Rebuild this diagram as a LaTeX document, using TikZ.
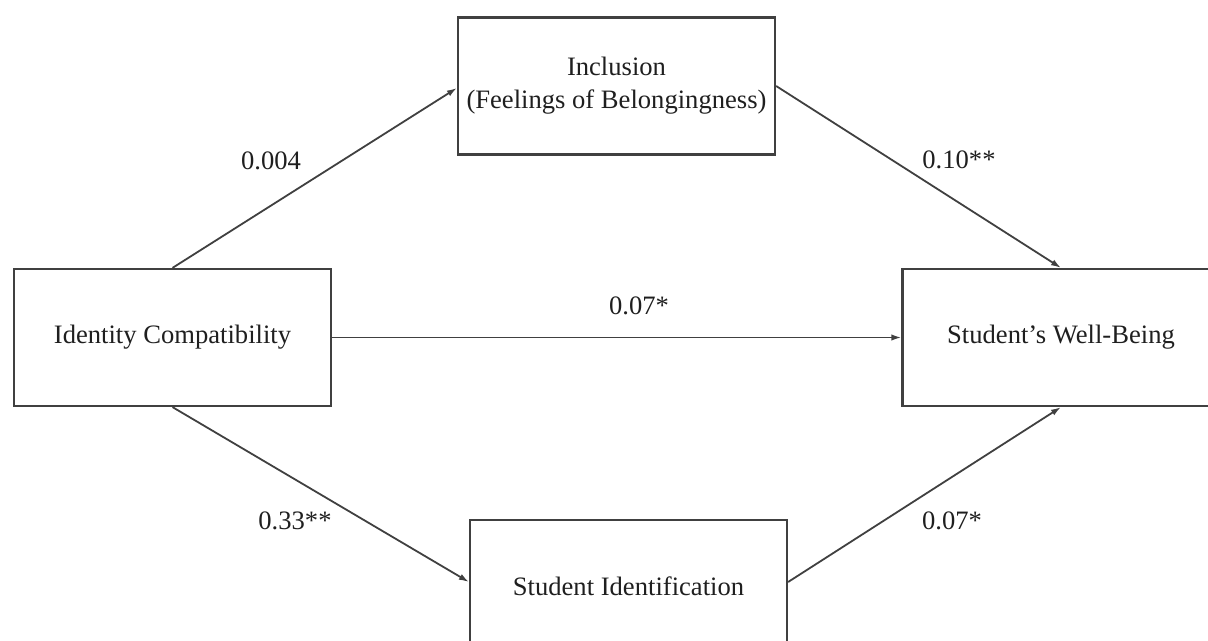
\documentclass[tikz,border=0pt]{standalone}
\usepackage{fontspec}
\setmainfont{Liberation Serif}
\usetikzlibrary{arrows.meta}
\begin{document}
\begin{tikzpicture}[x=0.5pt,y=-0.5pt,
  box/.style={draw=black!75,line width=1.1pt,minimum width=158.5pt,minimum height=68.5pt,inner sep=0pt,align=center,text=black!88,font=\fontsize{13.3}{16.5}\selectfont},
  path/.style={draw=black!75,line width=0.9pt,-{Latex[length=5pt,width=3.2pt]}},
  lab/.style={text=black!88,font=\fontsize{13.3}{16.5}\selectfont,inner sep=0pt}]
\useasboundingbox (0,0) rectangle (1208,641);
\clip (0,0) rectangle (1208,641);
\node[box] (L) at (172.5,337.5) {Identity Compatibility};
\node[box] (T) at (616.5,86) {Inclusion\\(Feelings of Belongingness)};
\node[box] (R) at (1061,337.5) {Student’s Well-Being};
\node[box,minimum height=66pt] (B) at (628.5,586) {Student Identification};
\draw[path] (L.north) -- ([yshift=-1pt]T.west);
\draw[path] (L.south) -- ([yshift=2pt]B.west);
\draw[path] (L.east) -- (R.west);
\draw[path] (T.east) -- (R.north);
\draw[path] ([yshift=2pt]B.east) -- (R.south);
\node[lab] (l1) at (271,161) {0.004};
\node[lab] (l2) at (959,160) {0.10**};
\node[lab] (l3) at (639,306) {0.07*};
\node[lab] (l4) at (295,521) {0.33**};
\node[lab] (l5) at (952,521) {0.07*};
\end{tikzpicture}
\end{document}
